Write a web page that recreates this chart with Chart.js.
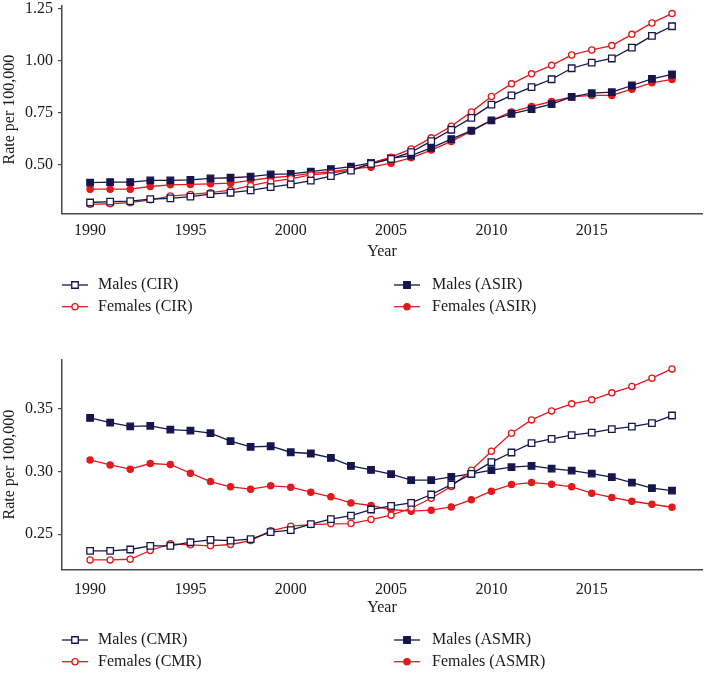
<!DOCTYPE html>
<html>
<head>
<meta charset="utf-8">
<script src="https://cdn.jsdelivr.net/npm/chart.js@4/dist/chart.umd.min.js"></script>
<style>
  html, body { margin: 0; padding: 0; background: #fff; }
  body { width: 708px; height: 673px; position: relative; overflow: hidden; }
  canvas { position: absolute; left: 0; }
  #c1 { top: 0; }
  #c2 { top: 330px; }
</style>
</head>
<body>
<canvas id="c1" width="708" height="330"></canvas>
<canvas id="c2" width="708" height="343"></canvas>
<script>
// ---- Data ----
const years = [1990,1991,1992,1993,1994,1995,1996,1997,1998,1999,2000,2001,2002,2003,2004,2005,2006,2007,2008,2009,2010,2011,2012,2013,2014,2015,2016,2017,2018,2019];
const xTickYears = [1990, 1995, 2000, 2005, 2010, 2015];

// Incidence panel
const maleCIR    = [0.317,0.321,0.324,0.333,0.337,0.345,0.357,0.364,0.375,0.391,0.404,0.422,0.444,0.470,0.503,0.527,0.559,0.612,0.667,0.724,0.788,0.832,0.872,0.910,0.963,0.990,1.010,1.062,1.119,1.165];
const femaleCIR  = [0.308,0.311,0.316,0.330,0.348,0.356,0.364,0.376,0.398,0.417,0.431,0.450,0.458,0.473,0.506,0.535,0.575,0.628,0.684,0.753,0.827,0.888,0.936,0.977,1.027,1.051,1.072,1.126,1.181,1.226];
const maleASIR   = [0.413,0.415,0.415,0.423,0.423,0.426,0.433,0.436,0.441,0.452,0.455,0.466,0.478,0.490,0.508,0.530,0.543,0.580,0.622,0.663,0.712,0.744,0.766,0.790,0.825,0.843,0.848,0.880,0.912,0.933];
const femaleASIR = [0.381,0.381,0.381,0.394,0.402,0.404,0.407,0.410,0.423,0.436,0.444,0.457,0.465,0.479,0.487,0.506,0.532,0.569,0.611,0.660,0.712,0.753,0.779,0.803,0.825,0.832,0.832,0.862,0.893,0.909];
const incidenceYTicks = [0.50, 0.75, 1.00, 1.25];

// Mortality panel
const maleCMR    = [0.2367,0.2367,0.2378,0.2407,0.2407,0.2436,0.2455,0.2449,0.2460,0.2516,0.2532,0.2580,0.2620,0.2649,0.2697,0.2726,0.2750,0.2817,0.2896,0.2981,0.3075,0.3152,0.3226,0.3261,0.3290,0.3311,0.3338,0.3359,0.3386,0.3447];
const femaleCMR  = [0.2295,0.2295,0.2300,0.2370,0.2423,0.2415,0.2407,0.2418,0.2449,0.2527,0.2564,0.2577,0.2583,0.2585,0.2617,0.2652,0.2707,0.2787,0.2880,0.3011,0.3162,0.3306,0.3412,0.3484,0.3540,0.3572,0.3628,0.3678,0.3745,0.3819];
const maleASMR   = [0.3428,0.3390,0.3360,0.3365,0.3335,0.3327,0.3306,0.3242,0.3197,0.3202,0.3154,0.3144,0.3109,0.3045,0.3013,0.2979,0.2931,0.2931,0.2957,0.2981,0.3011,0.3035,0.3045,0.3024,0.3008,0.2984,0.2955,0.2912,0.2867,0.2848];
const femaleASMR = [0.3093,0.3053,0.3019,0.3064,0.3056,0.2987,0.2920,0.2878,0.2859,0.2886,0.2875,0.2835,0.2798,0.2750,0.2729,0.2697,0.2684,0.2692,0.2718,0.2774,0.2843,0.2896,0.2912,0.2899,0.2878,0.2827,0.2793,0.2763,0.2739,0.2715];
const mortalityYTicks = [0.25, 0.30, 0.35];

// ---- Styling ----
const NAVY = '#16164f';
const RED = '#e5191c';
const AXIS = '#4a4a4a';
const TEXT = '#1a1a1a';
const FONT = '"Liberation Serif", "DejaVu Serif", serif';

function pts(vals) { return years.map((y, i) => ({ x: y, y: vals[i] })); }

function ds(label, vals, color, style, filled) {
  return {
    label: label,
    data: pts(vals),
    borderColor: color,
    backgroundColor: filled ? color : '#ffffff',
    borderWidth: 1.3,
    pointStyle: style,
    pointRadius: style === 'rect' ? 4.6 : 3.1,
    pointBorderWidth: 1.3,
    pointBorderColor: color,
    pointBackgroundColor: filled ? color : '#ffffff',
    tension: 0,
    fill: false
  };
}

// Custom two-column legend drawn in the canvas
const gridLegend = {
  id: 'gridLegend',
  afterDraw(chart, args, opts) {
    const ctx = chart.ctx;
    ctx.save();
    chart.data.datasets.forEach((d, i) => {
      const col = i < 2 ? 0 : 1;
      const row = i % 2;
      const cx = opts.markerX[col];
      const cy = opts.rowY[row];
      ctx.strokeStyle = d.borderColor;
      ctx.lineWidth = 1.3;
      ctx.beginPath();
      ctx.moveTo(cx - 13, cy);
      ctx.lineTo(cx + 13, cy);
      ctx.stroke();
      ctx.fillStyle = d.pointBackgroundColor;
      ctx.beginPath();
      if (d.pointStyle === 'rect') {
        const s = d.pointRadius * Math.SQRT1_2;
        ctx.rect(cx - s, cy - s, 2 * s, 2 * s);
      } else {
        ctx.arc(cx, cy, d.pointRadius, 0, Math.PI * 2);
      }
      ctx.fill();
      ctx.stroke();
      ctx.fillStyle = TEXT;
      ctx.font = '16px ' + FONT;
      ctx.textBaseline = 'middle';
      ctx.textAlign = 'left';
      ctx.fillText(d.label, opts.textX[col], cy);
    });
    ctx.restore();
  }
};

function makeChart(id, datasets, yMin, yMax, yTicks, layout) {
  return new Chart(document.getElementById(id), {
    type: 'line',
    data: { datasets: datasets },
    plugins: [gridLegend],
    options: {
      responsive: false,
      animation: false,
      events: [],
      layout: { padding: { top: layout.top, right: 1, bottom: layout.bottom, left: 0 } },
      plugins: {
        legend: { display: false },
        tooltip: { enabled: false },
        gridLegend: { markerX: [75, 407], textX: [98, 432], rowY: layout.rowY }
      },
      scales: {
        x: {
          type: 'linear',
          min: 1988.6,
          max: 2020.5,
          afterBuildTicks: (s) => { s.ticks = xTickYears.map(v => ({ value: v })); },
          afterFit: (s) => { s.height = layout.xHeight; s.paddingLeft = 0; s.paddingRight = 0; },
          grid: { display: false },
          border: { display: true, color: AXIS, width: 1.5 },
          ticks: {
            padding: layout.xTickPad,
            color: TEXT,
            font: { family: FONT, size: 16 },
            maxRotation: 0,
            callback: (v) => String(v)
          },
          title: {
            display: true,
            text: 'Year',
            color: TEXT,
            font: { family: FONT, size: 16 },
            padding: { top: 0, bottom: layout.titlePadBottom }
          }
        },
        y: {
          type: 'linear',
          min: yMin,
          max: yMax,
          afterBuildTicks: (s) => { s.ticks = yTicks.map(v => ({ value: v })); },
          afterFit: (s) => { s.width = 62; s.paddingTop = 0; s.paddingBottom = 0; },
          grid: { display: true, drawOnChartArea: false, drawTicks: true, tickLength: 4, color: AXIS, lineWidth: 1.2 },
          border: { display: true, color: AXIS, width: 1.5 },
          ticks: {
            padding: 5,
            color: TEXT,
            font: { family: FONT, size: 16 },
            callback: (v) => Number(v).toFixed(2)
          },
          title: {
            display: true,
            text: 'Rate per 100,000',
            color: TEXT,
            font: { family: FONT, size: 16 },
            padding: { top: 0, bottom: 0 }
          }
        }
      }
    }
  });
}

makeChart('c1', [
  ds('Males (CIR)', maleCIR, NAVY, 'rect', false),
  ds('Females (CIR)', femaleCIR, RED, 'circle', false),
  ds('Males (ASIR)', maleASIR, NAVY, 'rect', true),
  ds('Females (ASIR)', femaleASIR, RED, 'circle', true)
], 0.265, 1.263, incidenceYTicks,
  { top: 4, bottom: 330 - 213.3 - 50, xHeight: 50, xTickPad: 0, titlePadBottom: 2, rowY: [285, 306.7] });

makeChart('c2', [
  ds('Males (CMR)', maleCMR, NAVY, 'rect', false),
  ds('Females (CMR)', femaleCMR, RED, 'circle', false),
  ds('Males (ASMR)', maleASMR, NAVY, 'rect', true),
  ds('Females (ASMR)', femaleASMR, RED, 'circle', true)
], 0.222, 0.389, mortalityYTicks,
  { top: 30, bottom: 343 - 239.3 - 50, xHeight: 50, xTickPad: 3, titlePadBottom: 2, rowY: [310, 331.7] });
</script>
</body>
</html>
